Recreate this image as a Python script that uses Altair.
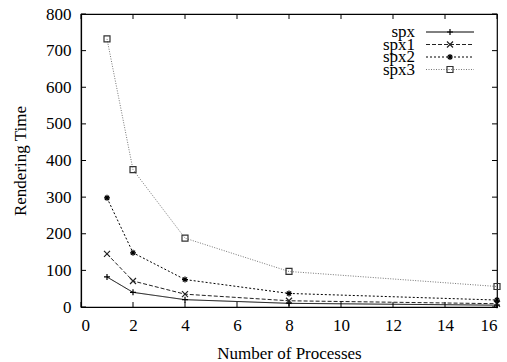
import altair as alt
import pandas as pd

procs = [1, 2, 4, 8, 16]
series_names = ["spx", "spx1", "spx2", "spx3"]
spx = [82, 40, 20, 10, 5]
spx1 = [145, 71, 35, 17, 9]
spx2 = [298, 148, 75, 37, 19]
spx3 = [732, 375, 188, 97, 56]
y_ticks = [0, 100, 200, 300, 400, 500, 600, 700, 800]
x_ticks = [0, 2, 4, 6, 8, 10, 12, 14, 16]

rows = []
for name, vals in zip(series_names, [spx, spx1, spx2, spx3]):
    for p, v in zip(procs, vals):
        rows.append({"series": name, "procs": p, "time": v})
df = pd.DataFrame(rows)
leg = pd.DataFrame({"series": series_names, "row": [0, 1, 2, 3]})
yt = pd.DataFrame({"v": y_ticks})
xt = pd.DataFrame({"v": x_ticks})

FONT = "Liberation Serif"
W, H = 416, 293

xs = alt.Scale(domain=[0, 16], nice=False, zero=False, padding=0)
ys = alt.Scale(domain=[0, 800], nice=False, padding=0)
xaxis = alt.Axis(values=x_ticks, tickSize=0, labelPadding=10, grid=False,
                 titlePadding=12, domainColor="black")
XT = "Number of Processes"
color = alt.Color("series:N", legend=None,
                  scale=alt.Scale(domain=series_names, range=["#000000", "#222222", "#000000", "#777777"]))
dash = alt.StrokeDash("series:N", legend=None,
                      scale=alt.Scale(domain=series_names, range=[[1, 0], [4, 2], [2, 2], [1, 1.5]]))
plus = "M-1,0L1,0M0,-1L0,1"
cross = "M-1,-1L1,1M-1,1L1,-1"
star = "M-1,0L1,0M0,-1L0,1M-0.7,-0.7L0.7,0.7M-0.7,0.7L0.7,-0.7"
shape = alt.Shape("series:N", legend=None,
                  scale=alt.Scale(domain=series_names, range=[plus, cross, star, "square"]))
size = alt.Size("series:N", legend=None,
                scale=alt.Scale(domain=series_names, range=[36, 36, 36, 30]))
pcolor = alt.Color("series:N", legend=None,
                   scale=alt.Scale(domain=series_names, range=["#000000", "#222222", "#000000", "#333333"]))

base = alt.Chart(df)
lines = base.mark_line(strokeWidth=1).encode(
    x=alt.X("procs:Q", scale=xs, title=XT, axis=xaxis),
    y=alt.Y("time:Q", scale=ys, title="Rendering Time",
            axis=alt.Axis(values=y_ticks, tickSize=0, labelPadding=10, grid=False,
                          titlePadding=16, domainColor="black")),
    color=color, strokeDash=dash,
)
points = base.mark_point(filled=False, strokeWidth=1.2, opacity=1).encode(
    x=alt.X("procs:Q", scale=xs, title=XT, axis=xaxis),
    y=alt.Y("time:Q", scale=ys, axis=None),
    shape=shape, stroke=pcolor, size=size,
)

tick_style = dict(color="black", strokeWidth=1)
yl = alt.Chart(yt).mark_rule(**tick_style).encode(
    y=alt.Y("v:Q", scale=ys, axis=None), x=alt.value(0), x2=alt.value(5))
yr = alt.Chart(yt).mark_rule(**tick_style).encode(
    y=alt.Y("v:Q", scale=ys, axis=None), x=alt.value(W - 5), x2=alt.value(W))
xb = alt.Chart(xt).mark_rule(**tick_style).encode(
    x=alt.X("v:Q", scale=xs, title=XT, axis=xaxis), y=alt.value(H - 5), y2=alt.value(H))
xtop = alt.Chart(xt).mark_rule(**tick_style).encode(
    x=alt.X("v:Q", scale=xs, title=XT, axis=xaxis), y=alt.value(0), y2=alt.value(5))

ls = alt.Scale(domain=[0, 3], range=[18, 55.5])
lbase = alt.Chart(leg)
ltext = lbase.mark_text(align="right", baseline="middle", font=FONT, fontSize=17, color="black").encode(
    text="series:N", x=alt.value(334), y=alt.Y("row:Q", scale=ls, axis=None))
lline = lbase.mark_rule(strokeWidth=1).encode(
    x=alt.value(345), x2=alt.value(393), y=alt.Y("row:Q", scale=ls, axis=None),
    color=color, strokeDash=dash)
lpt = lbase.mark_point(filled=False, strokeWidth=1.2, opacity=1).encode(
    x=alt.value(369), y=alt.Y("row:Q", scale=ls, axis=None), shape=shape, stroke=pcolor, size=size)

chart = alt.layer(lines, points, yl, yr, xb, xtop, ltext, lline, lpt).resolve_scale(
    y="independent"
).properties(
    width=W, height=H,
    autosize=alt.AutoSizeParams(type="none"),
    padding={"left": 81, "top": 14, "right": 10, "bottom": 55},
    background="white",
).configure_view(stroke="black", strokeWidth=1.2).configure_axis(
    labelFont=FONT, titleFont=FONT, labelFontSize=17, titleFontSize=17,
    titleFontWeight="normal", labelColor="black", titleColor="black", domainWidth=1.2,
)

chart.save("out.html", embed_options={"renderer": "svg", "actions": False})
